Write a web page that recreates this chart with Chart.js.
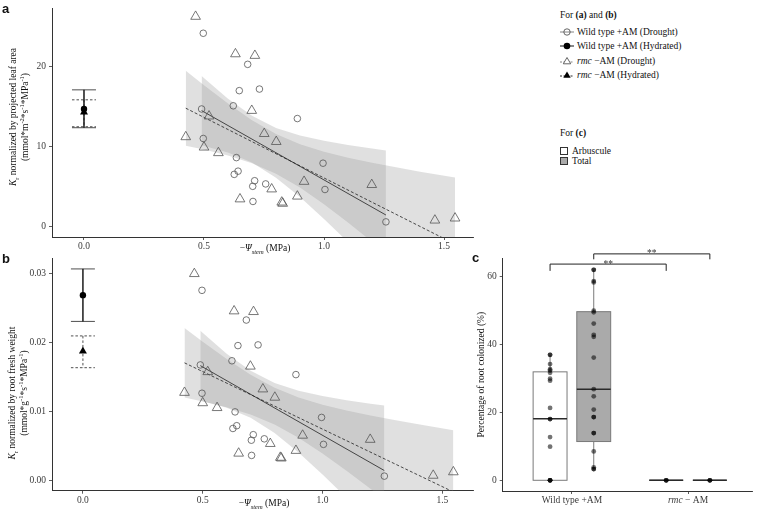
<!DOCTYPE html>
<html>
<head>
<meta charset="utf-8">
<script src="https://cdn.jsdelivr.net/npm/chart.js@4.4.0/dist/chart.umd.min.js"></script>
<style>
  body { margin: 0; background: #fff; width: 757px; height: 515px; position: relative; overflow: hidden;
         font-family: "Liberation Serif", "Times New Roman", serif; color: #111; }
  .pane { position: absolute; }
  .tag { position: absolute; font-family: "Liberation Sans", Arial, sans-serif; font-weight: bold; font-size: 13px; line-height: 13px; }
  .ytitle { position: absolute; width: 220px; height: 24px; transform: rotate(-90deg); text-align: center;
            font-size: 9.5px; line-height: 12px; white-space: nowrap; }
  .xtitle { position: absolute; font-size: 9.5px; line-height: 12px; white-space: nowrap; transform: translateX(-50%); }
  sub, sup { font-size: 6.5px; line-height: 0; }
  .leg { position: absolute; font-size: 9.5px; line-height: 12px; white-space: nowrap; }
  .leg svg { position: absolute; left: 0; top: 1px; }
  .sq { position: absolute; width: 6px; height: 6px; border: 0.8px solid #333; }
</style>
</head>
<body>

<div class="pane" style="left:0px;top:0px"><canvas id="chartA" width="480" height="255"></canvas></div>
<div class="pane" style="left:0px;top:250px"><canvas id="chartB" width="480" height="265"></canvas></div>
<div class="pane" style="left:470px;top:240px"><canvas id="chartC" width="287" height="275"></canvas></div>

<div class="tag" style="left:2px;top:2px">a</div>
<div class="tag" style="left:2px;top:252px">b</div>
<div class="tag" style="left:472px;top:251px">c</div>

<div class="ytitle" style="left:-91px;top:105px"><i>K</i><sub>r</sub> normalized by projected leaf area<br>(mmol*m<sup>-2</sup>*s<sup>-1</sup>*MPa<sup>-1</sup>)</div>
<div class="ytitle" style="left:-92px;top:381px"><i>K</i><sub>r</sub> normalized by root fresh weight<br>(mmol*g<sup>-1</sup>*s<sup>-1</sup>*MPa<sup>-1</sup>)</div>
<div class="xtitle" style="left:265px;top:242px">&minus;<i>&Psi;</i><sub><i>stem</i></sub> (MPa)</div>
<div class="xtitle" style="left:264px;top:497px">&minus;<i>&Psi;</i><sub><i>stem</i></sub> (MPa)</div>

<div class="leg" style="left:560px;top:9px">For <b>(a)</b> and <b>(b)</b></div>
<div class="leg" style="left:560px;top:26px;padding-left:17px">
  <svg width="14" height="10"><line x1="0" y1="5" x2="14" y2="5" stroke="#777" stroke-width="0.9"/><circle cx="7" cy="5" r="3.2" fill="none" stroke="#555" stroke-width="0.9"/></svg>Wild type +AM (Drought)</div>
<div class="leg" style="left:560px;top:40px;padding-left:17px">
  <svg width="14" height="10"><line x1="0" y1="5" x2="14" y2="5" stroke="#111" stroke-width="1"/><circle cx="7" cy="5" r="3.3" fill="#000"/></svg>Wild type +AM (Hydrated)</div>
<div class="leg" style="left:560px;top:55px;padding-left:17px">
  <svg width="14" height="10"><line x1="0" y1="6" x2="14" y2="6" stroke="#777" stroke-width="0.9" stroke-dasharray="2,1.5"/><polygon points="7,1.5 10.7,7.8 3.3,7.8" fill="#fff" stroke="#555" stroke-width="0.9"/></svg><i>rmc</i> &minus;AM (Drought)</div>
<div class="leg" style="left:560px;top:69px;padding-left:17px">
  <svg width="14" height="10"><line x1="0" y1="6" x2="14" y2="6" stroke="#111" stroke-width="0.9" stroke-dasharray="2,1.5"/><polygon points="7,1.5 10.7,7.8 3.3,7.8" fill="#000"/></svg><i>rmc</i> &minus;AM (Hydrated)</div>

<div class="leg" style="left:560px;top:127px">For <b>(c)</b></div>
<div class="sq" style="left:560px;top:147px;background:#fff"></div>
<div class="leg" style="left:572px;top:145px">Arbuscule</div>
<div class="sq" style="left:560px;top:157px;background:#aaa"></div>
<div class="leg" style="left:572px;top:155px">Total</div>

<script>
// ---- panels a & b: Kr vs -Psi stem ----
const xTicks = [0, 0.5, 1.0, 1.5];
const leafTicks = [0, 10, 20];
const rootTicks = [0, 0.01, 0.02, 0.03];

const wtDroughtX    = [0.497, 0.682, 0.647, 0.731, 0.622, 0.490, 0.889, 0.497, 0.635, 0.996, 0.642, 0.626, 0.711, 0.703, 0.757, 1.004, 0.704, 1.258];
const wtDroughtLeaf = [24.2, 20.3, 17.0, 17.2, 15.1, 14.7, 13.5, 11.0, 8.6, 7.9, 6.9, 6.5, 5.7, 5.0, 5.3, 4.6, 3.1, 0.54];
const wtDroughtRoot = [0.0275, 0.0232, 0.0195, 0.0196, 0.0173, 0.0167, 0.0153, 0.0126, 0.0099, 0.0091, 0.0079, 0.0075, 0.0066, 0.0058, 0.0060, 0.0052, 0.0036, 0.0006];

const rmcDroughtX    = [0.465, 0.631, 0.712, 0.699, 0.521, 0.424, 0.751, 0.801, 0.500, 0.560, 0.917, 0.782, 0.650, 0.824, 0.828, 0.889, 1.199, 1.462, 1.546];
const rmcDroughtLeaf = [26.3, 21.6, 21.4, 14.5, 13.8, 11.2, 11.6, 10.6, 9.9, 9.2, 5.6, 4.65, 3.4, 3.0, 2.85, 3.75, 5.2, 0.74, 1.0];
const rmcDroughtRoot = [0.0299, 0.0245, 0.0244, 0.0165, 0.0157, 0.0127, 0.0132, 0.0120, 0.0112, 0.0105, 0.0065, 0.0053, 0.0039, 0.0033, 0.0032, 0.0043, 0.0059, 0.0007, 0.0012];

// hydrated plants, [wild type, rmc]
const hydratedX = 0;
const hydMeanLeaf = [14.7, 14.3];
const hydLowLeaf  = [12.35, 12.47];
const hydHighLeaf = [17.1, 15.85];
const hydMeanRoot = [0.0268, 0.0187];
const hydLowRoot  = [0.0230, 0.0163];
const hydHighRoot = [0.0306, 0.0209];

// fitted lines
const fitXWT  = [0.49, 1.258];
const fitXRmc = [0.424, 1.546];
const fitLeafWT  = [14.5, 1.4];
const fitLeafRmc = [14.8, -2.25];
const fitRootWT  = [0.0166, 0.00141];
const fitRootRmc = [0.0170, -0.00169];

// confidence bands
const bandXWT  = [0.49, 0.6, 0.7, 0.8, 0.9, 1.0, 1.1, 1.2, 1.258];
const bandXRmc = [0.424, 0.5, 0.6, 0.7, 0.8, 0.9, 1.0, 1.1, 1.2, 1.3, 1.4, 1.546];
const bandLeafWTUp   = [18.85, 15.99, 13.85, 12.33, 11.37, 10.70, 10.17, 9.74, 9.50];
const bandLeafWTLow  = [10.15, 9.25, 7.99, 6.09, 3.65, 0.90, -1.99, -4.96, -6.70];
const bandLeafRmcUp  = [19.5, 17.67, 15.38, 13.30, 11.57, 10.28, 9.33, 8.59, 7.95, 7.38, 6.84, 6.10];
const bandLeafRmcLow = [10.1, 9.61, 8.86, 7.90, 6.59, 4.84, 2.75, 0.45, -1.95, -4.42, -6.92, -10.6];
const bandRootWTUp   = [0.02165, 0.01833, 0.01585, 0.01409, 0.01297, 0.01219, 0.01158, 0.01109, 0.01081];
const bandRootWTLow  = [0.01155, 0.01051, 0.00905, 0.00685, 0.00401, 0.00083, -0.00252, -0.00597, -0.00799];
const bandRootRmcUp  = [0.02203, 0.02004, 0.01756, 0.01529, 0.0134, 0.01198, 0.01092, 0.01009, 0.00937, 0.00872, 0.0081, 0.00724];
const bandRootRmcLow = [0.01197, 0.01142, 0.01058, 0.00951, 0.00808, 0.00616, 0.00388, 0.00139, -0.00123, -0.0039, -0.00662, -0.01062];

// ---- panel c: root colonization ----
const colGroups = ['Wild type +AM', 'rmc \u2212 AM'];
const colGroupItalic = ['', 'rmc'];   // leading part set in italics
const arbusculeWT  = [36.9, 36.9, 34.2, 32.7, 32.3, 31.6, 29.9, 29.3, 21.3, 18.0, 18.0, 12.7, 9.9, 0, 0, 0, 0];
const totalWT      = [61.9, 61.9, 58.6, 58.2, 49.9, 49.4, 46.1, 42.8, 42.2, 36.1, 26.8, 24.7, 20.8, 18.6, 18.6, 13.9, 13.9, 8.5, 3.8, 3.3, 3.3];
const arbusculeRmc = [0, 0, 0];
const totalRmc     = [0, 0, 0];
// box stats per group: [wild type, rmc]
const arbMin = [0, 0],   arbQ1 = [0, 0],    arbMed = [18.1, 0], arbQ3 = [31.9, 0], arbMax = [36.9, 0];
const totMin = [3.3, 0], totQ1 = [11.4, 0], totMed = [26.8, 0], totQ3 = [49.6, 0], totMax = [61.9, 0];
const colTicks = [0, 20, 40, 60];
const sigTop = [63.6, 66.6];
const sigFoot = [61.6, 65.0];
const sigText = ['**', '**'];

const SERIF = "'Liberation Serif', 'Times New Roman', serif";
Chart.defaults.font.family = SERIF;
Chart.defaults.font.size = 9.5;
Chart.defaults.color = '#3a3a3a';
const AXIS = '#333';
const BAND = 'rgba(153,153,153,0.3)';
const MARK = '#555';
const CAP = 0.05;     // half width of error bar caps, x units
const DODGE = 0.188;  // box offset from group centre
const HALF = 0.146;   // box half width

function pts(xs, ys) { return xs.map(function (x, i) { return { x: x, y: ys[i] }; }); }

function errBar(x, lo, hi) {
    return [
        { x: x - CAP, y: hi }, { x: x + CAP, y: hi }, { x: x, y: null },
        { x: x, y: hi }, { x: x, y: lo }, { x: x, y: null },
        { x: x - CAP, y: lo }, { x: x + CAP, y: lo }
    ];
}

function axis(min, max, tickVals, fmt, thick, horizontal) {
    return {
        type: 'linear', min: min, max: max,
        afterBuildTicks: function (s) { s.ticks = tickVals.map(function (v) { return { value: v }; }); },
        afterFit: function (s) { if (horizontal) s.height = thick; else s.width = thick; },
        ticks: { callback: fmt, padding: horizontal ? 1 : 3, autoSkip: false, maxRotation: 0, color: '#3a3a3a' },
        grid: { display: true, drawOnChartArea: false, drawTicks: true, tickLength: 3, color: AXIS, lineWidth: 0.8 },
        border: { display: true, color: AXIS, width: 1 }
    };
}

function lineSet(data, color, dash, order) {
    return { type: 'line', data: data, borderColor: color, borderWidth: 0.8, borderDash: dash,
             pointRadius: 0, fill: false, tension: 0, order: order };
}

function buildK(id, d) {
    const datasets = [
        { data: [{ x: hydratedX, y: d.hydMean[0] }], pointStyle: 'circle', pointRadius: 3.2,
          backgroundColor: '#000', borderColor: '#000', borderWidth: 0, order: 0 },
        { data: [{ x: hydratedX, y: d.hydMean[1] }], pointStyle: 'triangle', pointRadius: 4.6,
          backgroundColor: '#000', borderColor: '#000', borderWidth: 0, order: 0 },
        { data: pts(wtDroughtX, d.wt), pointStyle: 'circle', pointRadius: 3.3,
          backgroundColor: 'rgba(0,0,0,0)', borderColor: MARK, borderWidth: 0.8, order: 1 },
        { data: pts(rmcDroughtX, d.rmc), pointStyle: 'triangle', pointRadius: 5.6,
          backgroundColor: 'rgba(0,0,0,0)', borderColor: MARK, borderWidth: 0.8, order: 1 },
        lineSet(errBar(hydratedX, d.hydLow[0], d.hydHigh[0]), '#222', [], 2),
        lineSet(errBar(hydratedX, d.hydLow[1], d.hydHigh[1]), '#222', [2.5, 2], 2),
        lineSet(pts(fitXWT, d.fitWT), '#222', [], 3),
        lineSet(pts(fitXRmc, d.fitRmc), '#222', [3, 2], 3),
        { type: 'line', data: pts(bandXWT, d.wtUp), borderColor: 'rgba(0,0,0,0)', pointRadius: 0,
          backgroundColor: BAND, fill: '+1', tension: 0, order: 5 },
        { type: 'line', data: pts(bandXWT, d.wtLow), borderColor: 'rgba(0,0,0,0)', pointRadius: 0, fill: false, order: 5 },
        { type: 'line', data: pts(bandXRmc, d.rmcUp), borderColor: 'rgba(0,0,0,0)', pointRadius: 0,
          backgroundColor: BAND, fill: '+1', tension: 0, order: 6 },
        { type: 'line', data: pts(bandXRmc, d.rmcLow), borderColor: 'rgba(0,0,0,0)', pointRadius: 0, fill: false, order: 6 }
    ];
    return new Chart(document.getElementById(id), {
        type: 'scatter',
        data: { datasets: datasets },
        options: {
            responsive: false, animation: false, devicePixelRatio: 1,
            layout: { padding: { left: 0, top: d.padTop, right: 7, bottom: 0 } },
            plugins: { legend: { display: false }, tooltip: { enabled: false } },
            scales: {
                x: axis(d.xMin, d.xMax, xTicks, function (v) { return v.toFixed(1); }, d.xH, true),
                y: axis(d.yMin, d.yMax, d.yTicks, d.yFmt, 52, false)
            }
        }
    });
}

buildK('chartA', {
    wt: wtDroughtLeaf, rmc: rmcDroughtLeaf,
    hydMean: hydMeanLeaf, hydLow: hydLowLeaf, hydHigh: hydHighLeaf,
    fitWT: fitLeafWT, fitRmc: fitLeafRmc,
    wtUp: bandLeafWTUp, wtLow: bandLeafWTLow, rmcUp: bandLeafRmcUp, rmcLow: bandLeafRmcLow,
    xMin: -0.1333, xMax: 1.6208, yMin: -1.358, yMax: 27.28,
    yTicks: leafTicks, yFmt: function (v) { return String(v); },
    padTop: 5, xH: 18
});

buildK('chartB', {
    wt: wtDroughtRoot, rmc: rmcDroughtRoot,
    hydMean: hydMeanRoot, hydLow: hydLowRoot, hydHigh: hydHighRoot,
    fitWT: fitRootWT, fitRmc: fitRootRmc,
    wtUp: bandRootWTUp, wtLow: bandRootWTLow, rmcUp: bandRootRmcUp, rmcLow: bandRootRmcLow,
    xMin: -0.129, xMax: 1.628, yMin: -0.00151, yMax: 0.03208,
    yTicks: rootTicks, yFmt: function (v) { return v.toFixed(2); },
    padTop: 3, xH: 24.3
});

// boxes behind the dots, brackets and group labels on top
const boxPlugin = {
    id: 'boxes',
    beforeDatasetsDraw: function (chart) {
        const ctx = chart.ctx, x = chart.scales.x, y = chart.scales.y;
        function one(c, mn, q1, md, q3, mx, fillCol) {
            const l = x.getPixelForValue(c - HALF), r = x.getPixelForValue(c + HALF), m = x.getPixelForValue(c);
            ctx.save();
            ctx.strokeStyle = '#7a7a7a';
            ctx.lineWidth = 1;
            ctx.beginPath();
            ctx.moveTo(m, y.getPixelForValue(q3)); ctx.lineTo(m, y.getPixelForValue(mx));
            ctx.moveTo(m, y.getPixelForValue(q1)); ctx.lineTo(m, y.getPixelForValue(mn));
            ctx.stroke();
            const t = y.getPixelForValue(q3), b = y.getPixelForValue(q1);
            ctx.fillStyle = fillCol;
            ctx.fillRect(l, t, r - l, b - t);
            ctx.strokeRect(l, t, r - l, b - t);
            ctx.strokeStyle = '#2a2a2a';
            ctx.lineWidth = 1.5;
            ctx.beginPath();
            ctx.moveTo(l, y.getPixelForValue(md)); ctx.lineTo(r, y.getPixelForValue(md));
            ctx.stroke();
            ctx.restore();
        }
        for (let g = 0; g < colGroups.length; g++) {
            one(g + 1 - DODGE, arbMin[g], arbQ1[g], arbMed[g], arbQ3[g], arbMax[g], '#ffffff');
            one(g + 1 + DODGE, totMin[g], totQ1[g], totMed[g], totQ3[g], totMax[g], '#aaaaaa');
        }
    },
    afterDatasetsDraw: function (chart) {
        const ctx = chart.ctx, x = chart.scales.x, y = chart.scales.y;
        const from = [1 - DODGE, 1 + DODGE], to = [2 - DODGE, 2 + DODGE];
        ctx.save();
        ctx.strokeStyle = '#222';
        ctx.lineWidth = 1;
        ctx.fillStyle = '#333';
        ctx.font = '9.5px ' + SERIF;
        ctx.textAlign = 'center';
        ctx.textBaseline = 'alphabetic';
        for (let i = 0; i < sigText.length; i++) {
            const a = x.getPixelForValue(from[i]), b = x.getPixelForValue(to[i]);
            const t = y.getPixelForValue(sigTop[i]), f = y.getPixelForValue(sigFoot[i]);
            ctx.beginPath();
            ctx.moveTo(a, f); ctx.lineTo(a, t); ctx.lineTo(b, t); ctx.lineTo(b, f);
            ctx.stroke();
            ctx.fillText(sigText[i], (a + b) / 2, t + 2.5);
        }
        // group labels, with the mutant name in italics
        ctx.fillStyle = '#3a3a3a';
        ctx.textAlign = 'left';
        ctx.textBaseline = 'middle';
        const ly = x.bottom - 14.3;
        for (let g = 0; g < colGroups.length; g++) {
            const it = colGroupItalic[g], rest = colGroups[g].slice(it.length);
            ctx.font = 'italic 9.5px ' + SERIF;
            const wi = ctx.measureText(it).width;
            ctx.font = '9.5px ' + SERIF;
            const wr = ctx.measureText(rest).width;
            let lx = x.getPixelForValue(g + 1) - (wi + wr) / 2;
            ctx.font = 'italic 9.5px ' + SERIF;
            ctx.fillText(it, lx, ly);
            ctx.font = '9.5px ' + SERIF;
            ctx.fillText(rest, lx + wi, ly);
        }
        ctx.restore();
    }
};

function dots(vals, c) { return vals.map(function (v) { return { x: c, y: v }; }); }

new Chart(document.getElementById('chartC'), {
    type: 'scatter',
    data: {
        datasets: [
            { data: dots(arbusculeWT, 1 - DODGE) },
            { data: dots(totalWT, 1 + DODGE) },
            { data: dots(arbusculeRmc, 2 - DODGE) },
            { data: dots(totalRmc, 2 + DODGE) }
        ].map(function (ds) {
            ds.pointRadius = 2.4; ds.backgroundColor = 'rgba(0,0,0,0.55)'; ds.borderWidth = 0;
            return ds;
        })
    },
    options: {
        responsive: false, animation: false, devicePixelRatio: 1,
        layout: { padding: { left: 0, top: 18.3, right: 5, bottom: 0 } },
        plugins: { legend: { display: false }, tooltip: { enabled: false } },
        scales: {
            x: axis(0.404, 2.551, [1, 2], function () { return ''; }, 24, true),
            y: Object.assign(axis(-3.15, 65.3, colTicks, function (v) { return String(v); }, 32.7, false), {
                title: { display: true, text: 'Percentage of root colonized (%)', color: '#111',
                         padding: { top: 6, bottom: 0 }, font: { size: 9.5 } }
            })
        }
    },
    plugins: [boxPlugin]
});
</script>
</body>
</html>
